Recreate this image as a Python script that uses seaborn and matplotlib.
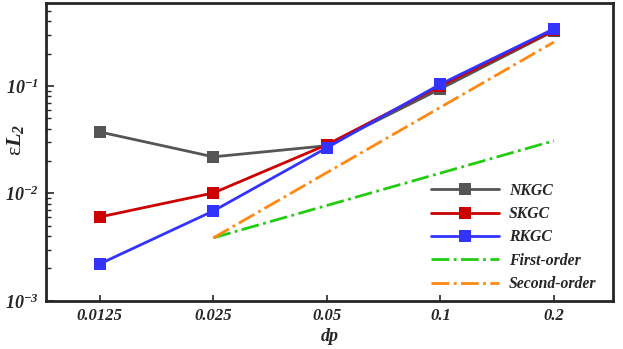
import matplotlib
matplotlib.use("Agg")
import matplotlib.pyplot as plt
import matplotlib.ticker as mticker
import pandas as pd
import seaborn as sns

# Data
dp = [0.0125, 0.025, 0.05, 0.1, 0.2]
dp_labels = ["0.0125", "0.025", "0.05", "0.1", "0.2"]
nkgc = [0.0373, 0.0219, 0.0278, 0.094, 0.325]
skgc = [0.00604, 0.0101, 0.0284, 0.100, 0.330]
rkgc = [0.00221, 0.00687, 0.0266, 0.104, 0.340]
ref_dp = [0.025, 0.2]
first_order = [0.00386, 0.0309]
second_order = [0.00386, 0.256]

sns.set_style("ticks")
plt.rcParams["font.family"] = ["Liberation Serif", "DejaVu Serif"]
plt.rcParams["mathtext.fontset"] = "custom"
plt.rcParams["mathtext.rm"] = "Liberation Serif:italic:bold"
plt.rcParams["mathtext.it"] = "Liberation Serif:italic:bold"
plt.rcParams["mathtext.bf"] = "Liberation Serif:italic:bold"

fig, ax = plt.subplots(figsize=(6.23, 3.49), dpi=100)
fig.subplots_adjust(left=0.074, right=0.984, bottom=0.138, top=0.991)

series = [
    ("NKGC", dp, nkgc, "#555555", "-", "s"),
    ("SKGC", dp, skgc, "#cc0000", "-", "s"),
    ("RKGC", dp, rkgc, "#3333ff", "-", "s"),
    ("First-order", ref_dp, first_order, "#22cc11", "-.", None),
    ("Second-order", ref_dp, second_order, "#ff8811", "-.", None),
]

for name, xs, ys, color, ls, mk in series:
    df = pd.DataFrame({"dp": xs, "err": ys})
    sns.lineplot(data=df, x="dp", y="err", ax=ax, color=color, linestyle=ls,
                 marker=mk, markersize=8, markeredgewidth=0, linewidth=2.0,
                 label=name, sort=False)

ax.set_xscale("log")
ax.set_yscale("log")
ax.set_xlim(0.009, 0.287)
ax.set_ylim(1e-3, 0.59)

ax.xaxis.set_major_locator(mticker.FixedLocator(dp))
ax.xaxis.set_major_formatter(mticker.FixedFormatter(dp_labels))
ax.xaxis.set_minor_locator(mticker.NullLocator())
ax.yaxis.set_major_locator(mticker.FixedLocator([1e-3, 1e-2, 1e-1]))
ax.yaxis.set_major_formatter(mticker.FixedFormatter(
    [r"$10^{-3}$", r"$10^{-2}$", r"$10^{-1}$"]))
ax.yaxis.set_minor_locator(mticker.LogLocator(base=10, subs=range(2, 10)))
ax.yaxis.set_minor_formatter(mticker.NullFormatter())

ax.tick_params(axis="x", which="major", direction="in", length=4.5, width=1.2,
               labelsize=12, pad=5)
ax.tick_params(axis="y", which="major", direction="in", length=6, width=1.2,
               labelsize=13, pad=5)
ax.tick_params(axis="y", which="minor", direction="in", length=3.5, width=1.0)
for lab in ax.get_xticklabels():
    lab.set_fontweight("bold")
    lab.set_fontstyle("italic")

for sp in ax.spines.values():
    sp.set_linewidth(2.0)
    sp.set_visible(True)

ax.set_xlabel("dp", fontsize=13, fontweight="bold", fontstyle="italic", labelpad=3)
ax.set_ylabel(r"ε$L_2$", fontsize=16)
ax.yaxis.set_label_coords(-0.036, 0.54)

leg = ax.legend(loc="lower right", frameon=False, fontsize=11.3, handlelength=4.3,
                borderaxespad=0.15, labelspacing=0.47, handletextpad=0.65,
                bbox_to_anchor=(0.986, 0.0))
for t in leg.get_texts():
    t.set_fontweight("bold")
    t.set_fontstyle("italic")

fig.savefig("out.png", dpi=100)
